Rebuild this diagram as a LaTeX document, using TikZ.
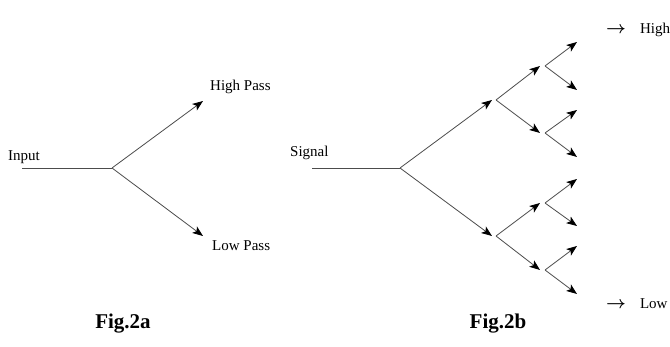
\documentclass[tikz,border=0pt]{standalone}
\usepackage{fontspec}
\setmainfont{Liberation Serif}
\usetikzlibrary{arrows.meta}
\tikzset{
  wire/.style={draw=black!70, line width=0.8pt},
  arr/.style={wire, -{Stealth[length=10.5pt,width=8pt,inset=2.5pt,fill=black,color=black]}},
  lbl/.style={inner sep=0pt, font=\fontsize{15}{18}\selectfont},
  figcap/.style={inner sep=0pt, font=\fontsize{21}{24}\selectfont\bfseries}
}
\newcommand{\outarrow}{{\fontsize{19}{19}\selectfont\boldmath$\rightarrow$}}
\begin{document}
\begin{tikzpicture}[x=1pt,y=-1pt]
\useasboundingbox[fill=white] (0,0) rectangle (670,347);

% ---- two-band split ----
\coordinate (inL) at (22,168);
\coordinate (inB) at (112,168);
\coordinate (hpT) at (203,101);
\coordinate (lpT) at (203,236);
\draw[wire] (inL) -- (inB);
\draw[arr] (inB) -- (hpT);
\draw[arr] (inB) -- (lpT);
\node[lbl, anchor=base west] (input) at (8,161) {Input};
\node[lbl, anchor=base west] (hp) at (210,91) {High Pass};
\node[lbl, anchor=base west] (lp) at (212,251) {Low Pass};
\node[figcap, anchor=base] (figa) at (123,329) {Fig.2a};

% ---- three-level tree ----
\coordinate (sL) at (312,168);
\coordinate (s0) at (400,168);
\draw[wire] (sL) -- (s0);
\node[lbl, anchor=base west] (sig) at (290,157) {Signal};

% level 1
\coordinate (u1t) at (492,100); \coordinate (u1) at (496,100);
\coordinate (d1t) at (492,236); \coordinate (d1) at (496,236);
\draw[arr] (s0) -- (u1t);
\draw[arr] (s0) -- (d1t);

% level 2
\foreach \n/\p/\y in {a/u1/66, b/u1/133, c/d1/203, d/d1/270}{
  \coordinate (\n2t) at (540,\y);
  \coordinate (\n2) at (545,\y);
  \draw[arr] (\p) -- (\n2t);
}

% level 3
\foreach \n/\p/\y in {a/a2/42, b/a2/90, c/b2/110, d/b2/157,
                      e/c2/179, f/c2/226, g/d2/246, h/d2/294}{
  \coordinate (\n3) at (577,\y);
  \draw[arr] (\p) -- (\n3);
}

\node[lbl, anchor=base west] (hi) at (606,34) {\outarrow\hspace{14pt}High};
\node[lbl, anchor=base west] (lo) at (606,309) {\outarrow\hspace{14pt}Low};
\node[figcap, anchor=base] (figb) at (498,329) {Fig.2b};
\end{tikzpicture}
\end{document}
